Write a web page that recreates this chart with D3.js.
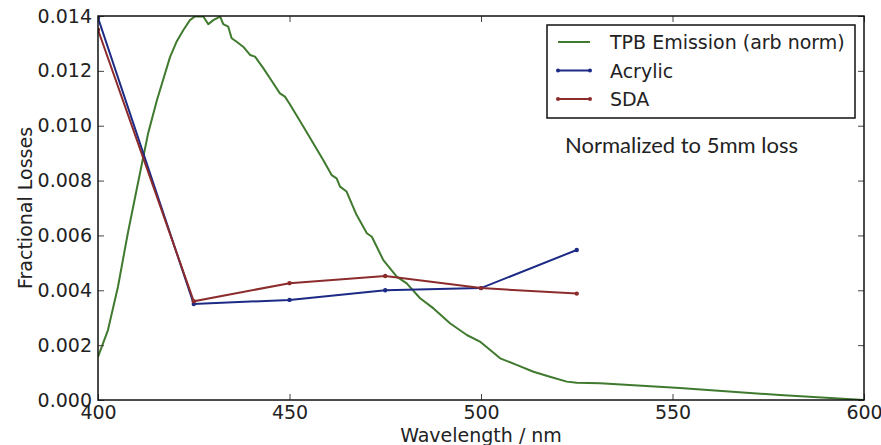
<!DOCTYPE html>
<html>
<head>
<meta charset="utf-8">
<script src="https://cdn.jsdelivr.net/npm/d3@7"></script>
<style>
  body { margin: 0; background: #fff; }
  svg text { font-family: "DejaVu Sans", sans-serif; fill: #222; }
</style>
</head>
<body>
<svg id="chart" width="881" height="445"></svg>
<script>
/* ---- data ---- */
var wavelengths = [400, 425, 450, 475, 500, 525];
var acrylic = [0.01393, 0.0035, 0.00365, 0.0040, 0.00408, 0.00547];
var sda = [0.0135, 0.0036, 0.00426, 0.00452, 0.00408, 0.00388];

// TPB emission spectrum (arbitrary normalisation)
var tpbWl = [400, 402.6, 405.2, 407.8, 409.7, 411.5, 413.1, 415.4, 418.8, 420.5, 422.3, 424,
  425.3, 427.5, 428.8, 430.1, 431.9, 432.7, 434, 434.9, 436.2, 437.9, 439.7, 441, 443.2,
  444.9, 447.5, 448.8, 450.1, 453.6, 456.2, 458.8, 461, 462.3, 463.2, 464.9, 467.5, 470.2,
  471.5, 474.5, 478, 480.6, 484.1, 487.6, 491.9, 496.3, 499.7, 502.4, 505, 509.3, 513.7,
  518, 522.4, 525, 531.1, 551.9, 578, 600];
var tpbVal = [0.00157, 0.00255, 0.00412, 0.00609, 0.0074, 0.00864, 0.00973, 0.01094, 0.0125, 0.01306, 0.01349, 0.01385,
  0.01398, 0.01398, 0.0137, 0.01385, 0.01398, 0.0137, 0.01361, 0.01319, 0.01306, 0.01288, 0.01258, 0.01252, 0.01209,
  0.01173, 0.01118, 0.01106, 0.01078, 0.00997, 0.00936, 0.00875, 0.0082, 0.00808, 0.00778, 0.0076, 0.00675, 0.00608,
  0.00595, 0.0051, 0.0045, 0.00425, 0.00371, 0.00334, 0.0028, 0.00237, 0.00213, 0.00182, 0.00152, 0.00128, 0.00103,
  0.00085, 0.00067, 0.00063, 0.00061, 0.00044, 0.00018, 0.0];

var xTicks = [400, 450, 500, 550, 600];
var yTicks = [0, 0.002, 0.004, 0.006, 0.008, 0.010, 0.012, 0.014];
var seriesNames = ["TPB Emission (arb norm)", "Acrylic", "SDA"];
var seriesColors = ["#3f7a2e", "#1c2a85", "#8c2b2b"];

/* ---- layout ---- */
var svg = d3.select("#chart");
var margin = {left: 98, right: 17, top: 16, bottom: 45};
var W = 881, H = 445;

var x = d3.scaleLinear().domain([400, 600]).range([margin.left, W - margin.right]);
var y = d3.scaleLinear().domain([0, 0.014]).range([H - margin.bottom, margin.top]);

svg.append("clipPath").attr("id", "clip")
  .append("rect")
  .attr("x", margin.left).attr("y", margin.top)
  .attr("width", W - margin.left - margin.right)
  .attr("height", H - margin.top - margin.bottom);

var plot = svg.append("g").attr("clip-path", "url(#clip)");

var line = d3.line().x(function (d) { return x(d[0]); }).y(function (d) { return y(d[1]); });

// green emission curve
plot.append("path")
  .datum(d3.zip(tpbWl, tpbVal))
  .attr("d", line)
  .attr("fill", "none")
  .attr("stroke", seriesColors[0])
  .attr("stroke-width", 2)
  .attr("stroke-linejoin", "round");

[acrylic, sda].forEach(function (vals, i) {
  var pts = d3.zip(wavelengths, vals);
  var c = seriesColors[i + 1];
  plot.append("path").datum(pts).attr("d", line)
    .attr("fill", "none").attr("stroke", c).attr("stroke-width", 2);
  plot.selectAll(null).data(pts).enter().append("circle")
    .attr("cx", function (d) { return x(d[0]); })
    .attr("cy", function (d) { return y(d[1]); })
    .attr("r", 2.2).attr("fill", c);
});

/* ---- axes (ticks inside, on all four sides) ---- */
var fmtY = d3.format(".3f");
var bottomAxis = d3.axisBottom(x).tickValues(xTicks).tickSizeInner(-6).tickSizeOuter(0).tickPadding(6);
var topAxis = d3.axisTop(x).tickValues(xTicks).tickSizeInner(-6).tickSizeOuter(0).tickFormat("");
var leftAxis = d3.axisLeft(y).tickValues(yTicks).tickFormat(fmtY).tickSizeInner(-6).tickSizeOuter(0).tickPadding(6);
var rightAxis = d3.axisRight(y).tickValues(yTicks).tickSizeInner(-6).tickSizeOuter(0).tickFormat("");

function styleAxis(g) {
  g.select(".domain").remove();
  g.selectAll("line").attr("stroke", "#444");
  g.selectAll("text").attr("font-size", 19).attr("fill", "#222")
    .style("font-family", "DejaVu Sans, sans-serif");
}

svg.append("g").attr("transform", "translate(0," + (H - margin.bottom) + ")").call(bottomAxis).call(styleAxis);
svg.append("g").attr("transform", "translate(0," + margin.top + ")").call(topAxis).call(styleAxis);
svg.append("g").attr("transform", "translate(" + margin.left + ",0)").call(leftAxis).call(styleAxis);
svg.append("g").attr("transform", "translate(" + (W - margin.right) + ",0)").call(rightAxis).call(styleAxis);

// frame
svg.append("rect")
  .attr("x", margin.left).attr("y", margin.top)
  .attr("width", W - margin.left - margin.right)
  .attr("height", H - margin.top - margin.bottom)
  .attr("fill", "none").attr("stroke", "#111").attr("stroke-width", 1.5);

// axis labels
svg.append("text")
  .attr("x", (margin.left + W - margin.right) / 2).attr("y", 442)
  .attr("text-anchor", "middle").attr("font-size", 19)
  .text("Wavelength / nm");

svg.append("text")
  .attr("transform", "translate(32," + ((margin.top + H - margin.bottom) / 2) + ") rotate(-90)")
  .attr("text-anchor", "middle").attr("font-size", 19)
  .text("Fractional Losses");

/* ---- legend ---- */
var lg = svg.append("g");
lg.append("rect")
  .attr("x", 547).attr("y", 25).attr("width", 308).attr("height", 93)
  .attr("fill", "#fff").attr("stroke", "#111").attr("stroke-width", 1.5);

seriesNames.forEach(function (name, i) {
  var ly = 42 + i * 28.5;
  lg.append("line").attr("x1", 558).attr("x2", 590).attr("y1", ly).attr("y2", ly)
    .attr("stroke", seriesColors[i]).attr("stroke-width", 2);
  if (i > 0) {
    [558, 590].forEach(function (cx) {
      lg.append("circle").attr("cx", cx).attr("cy", ly).attr("r", 2).attr("fill", seriesColors[i]);
    });
  }
  lg.append("text").attr("x", 610).attr("y", ly + 7).attr("font-size", 19).text(name);
});

// annotation
svg.append("text")
  .attr("x", 565).attr("y", 153)
  .attr("font-size", 22)
  .style("font-family", "Lato, 'Open Sans', sans-serif")
  .text("Normalized to 5mm loss");
</script>
</body>
</html>
